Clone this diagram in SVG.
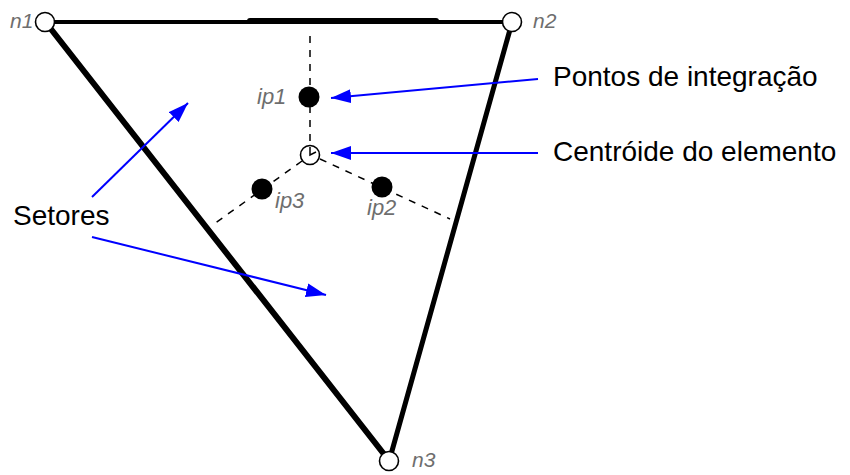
<svg xmlns="http://www.w3.org/2000/svg" width="850" height="475" viewBox="0 0 850 475">
<defs>
<style>
.edge{stroke:#000;fill:none;stroke-linecap:round}
.dash{stroke:#000;stroke-width:1.5;stroke-dasharray:7,7;fill:none}
.blue{stroke:#0000ff;stroke-width:2;fill:none}
.node{fill:#fff;stroke:#000;stroke-width:1.6}
.ip{fill:#000}
.nl{font-family:"Liberation Sans",Arial,sans-serif;font-style:italic;font-size:21px;fill:#6e6e6e}
.il{font-family:"Liberation Sans",Arial,sans-serif;font-style:italic;font-size:22px;fill:#6e6e6e}
.lbl{font-family:"Liberation Sans",Arial,sans-serif;font-size:28px;fill:#000}
</style>
<marker id="ah" markerUnits="userSpaceOnUse" markerWidth="22" markerHeight="16" refX="20" refY="7" orient="auto">
<path d="M0,0 L20,7 L0,14 Z" fill="#0000ff"/>
</marker>
</defs>
<rect width="850" height="475" fill="#fff"/>
<g id="connectors">
<line class="edge" x1="45" y1="22" x2="512" y2="22" stroke-width="4"/>
<line class="edge" x1="250" y1="21" x2="436" y2="21" stroke-width="6"/>
<line class="edge" x1="47" y1="24" x2="387" y2="458" stroke-width="6"/>
<line class="edge" x1="511" y1="26" x2="390" y2="458" stroke-width="5"/>
<line class="dash" x1="310" y1="36" x2="310" y2="145"/>
<line class="dash" x1="302" y1="161" x2="214" y2="224"/>
<line class="dash" x1="320" y1="159" x2="450" y2="219"/>
<line class="blue" x1="538" y1="79" x2="331" y2="98" marker-end="url(#ah)"/>
<line class="blue" x1="538" y1="153" x2="331" y2="153" marker-end="url(#ah)"/>
<line class="blue" x1="92" y1="197" x2="188" y2="103" marker-end="url(#ah)"/>
<line class="blue" x1="92" y1="237" x2="326" y2="295" marker-end="url(#ah)"/>
</g>
<g id="n1"><circle class="node" cx="45" cy="22" r="9.5"/><text class="nl" x="10" y="28">n1</text></g>
<g id="n2"><circle class="node" cx="512" cy="22" r="9.5"/><text class="nl" x="533" y="28">n2</text></g>
<g id="n3"><circle class="node" cx="389" cy="461" r="9.5"/><text class="nl" x="412" y="467">n3</text></g>
<g id="ip1"><circle class="ip" cx="309" cy="97" r="10.5"/><text class="il" x="257" y="104">ip1</text></g>
<g id="ip2"><circle class="ip" cx="382" cy="187" r="10.5"/><text class="il" x="367" y="215">ip2</text></g>
<g id="ip3"><circle class="ip" cx="262" cy="189" r="10.5"/><text class="il" x="275" y="208">ip3</text></g>
<g id="centroid"><circle class="node" cx="310" cy="155" r="9.5"/><path d="M310,147 L310,155 L316,152" stroke="#000" stroke-width="1.5" fill="none"/></g>
<g id="label-pontos"><text class="lbl" x="553" y="86">Pontos de integração</text></g>
<g id="label-centroide"><text class="lbl" x="553" y="161">Centróide do elemento</text></g>
<g id="label-setores"><text class="lbl" x="13" y="225">Setores</text></g>
</svg>
